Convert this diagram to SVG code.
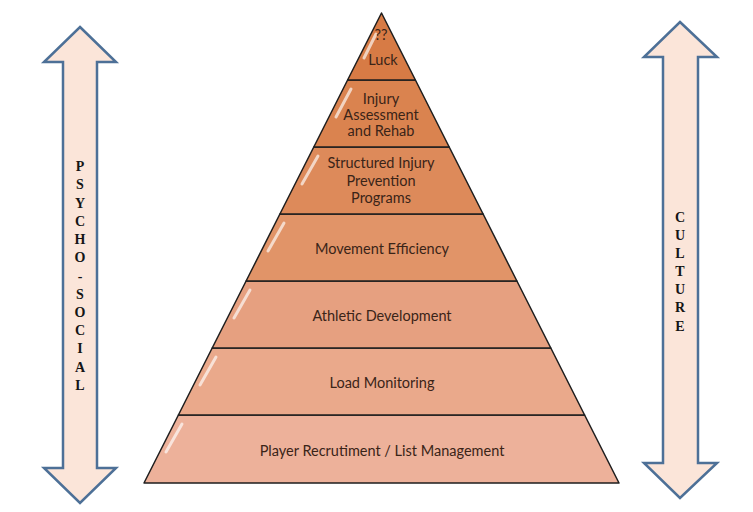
<svg xmlns="http://www.w3.org/2000/svg" width="753" height="512" viewBox="0 0 753 512">
<style>
.layer{stroke:#1e1e1e;stroke-width:1.5;stroke-linejoin:round}
.gloss{fill:none;stroke:#ffffff;stroke-opacity:0.65;stroke-width:3;stroke-linecap:round}
.lbl{font-family:Lato,"Liberation Sans",sans-serif;font-size:14.5px;fill:#3a2418;text-anchor:middle}
.arrow{fill:#fbe5d9;stroke:#4d7097;stroke-width:2.5;stroke-linejoin:miter}
.side{font-family:"Liberation Serif",serif;font-weight:bold;font-size:14px;fill:#151515;text-anchor:middle}
</style>
<rect width="753" height="512" fill="#ffffff"/>
<g id="arrow-left">
<path class="arrow" d="M80,27 L116,62 L97,62 L97,468 L116,468 L80,503 L44,468 L63,468 L63,62 L44,62 Z"/>
<text class="side" x="80" y="171">P</text>
<text class="side" x="80" y="189">S</text>
<text class="side" x="80" y="208">Y</text>
<text class="side" x="80" y="226">C</text>
<text class="side" x="80" y="244">H</text>
<text class="side" x="80" y="262">O</text>
<text class="side" x="80" y="281">-</text>
<text class="side" x="80" y="299">S</text>
<text class="side" x="80" y="317">O</text>
<text class="side" x="80" y="335">C</text>
<text class="side" x="80" y="353">I</text>
<text class="side" x="80" y="372">A</text>
<text class="side" x="80" y="390">L</text>
</g>
<g id="arrow-right">
<path class="arrow" d="M680,22 L717,57 L698,57 L698,463 L717,463 L680,498 L644,463 L663,463 L663,57 L644,57 Z"/>
<text class="side" x="680" y="222">C</text>
<text class="side" x="680" y="240">U</text>
<text class="side" x="680" y="258">L</text>
<text class="side" x="680" y="276">T</text>
<text class="side" x="680" y="294">U</text>
<text class="side" x="680" y="312">R</text>
<text class="side" x="680" y="331">E</text>
</g>
<g id="layer-player">
<path class="layer" fill="#edb19a" d="M178.4,415 L584.6,415 L619,483 L144,483 Z"/>
<path class="gloss" d="M182,424 L166,452"/>
<text class="lbl" x="382" y="456">Player Recrutiment / List Management</text>
</g>
<g id="layer-load">
<path class="layer" fill="#eaa98b" d="M212.2,348 L550.8,348 L584.6,415 L178.4,415 Z"/>
<path class="gloss" d="M216,357 L200,385"/>
<text class="lbl" x="382" y="388">Load Monitoring</text>
</g>
<g id="layer-athletic">
<path class="layer" fill="#e6a080" d="M246.1,281 L516.9,281 L550.8,348 L212.2,348 Z"/>
<path class="gloss" d="M250,290 L234,318"/>
<text class="lbl" x="382" y="321">Athletic Development</text>
</g>
<g id="layer-movement">
<path class="layer" fill="#e19468" d="M279.9,214 L483.1,214 L516.9,281 L246.1,281 Z"/>
<path class="gloss" d="M284,223 L268,251"/>
<text class="lbl" x="382" y="254">Movement Efficiency</text>
</g>
<g id="layer-structured">
<path class="layer" fill="#dd8a5a" d="M313.8,147 L449.2,147 L483.1,214 L279.9,214 Z"/>
<path class="gloss" d="M318,156 L302,184"/>
<text class="lbl" x="381" y="168">Structured Injury</text>
<text class="lbl" x="381" y="186">Prevention</text>
<text class="lbl" x="381" y="203">Programs</text>
</g>
<g id="layer-injury">
<path class="layer" fill="#da834f" d="M347.6,80 L415.4,80 L449.2,147 L313.8,147 Z"/>
<path class="gloss" d="M351,89 L336,117"/>
<text class="lbl" x="381" y="104">Injury</text>
<text class="lbl" x="381" y="120">Assessment</text>
<text class="lbl" x="381" y="136">and Rehab</text>
</g>
<g id="layer-luck">
<path class="layer" fill="#d77b45" d="M381.5,13 L415.4,80 L347.6,80 Z"/>
<path class="gloss" d="M376,34 L364,58"/>
<text class="lbl" x="381" y="40">??</text>
<text class="lbl" x="383" y="65">Luck</text>
</g>
</svg>
